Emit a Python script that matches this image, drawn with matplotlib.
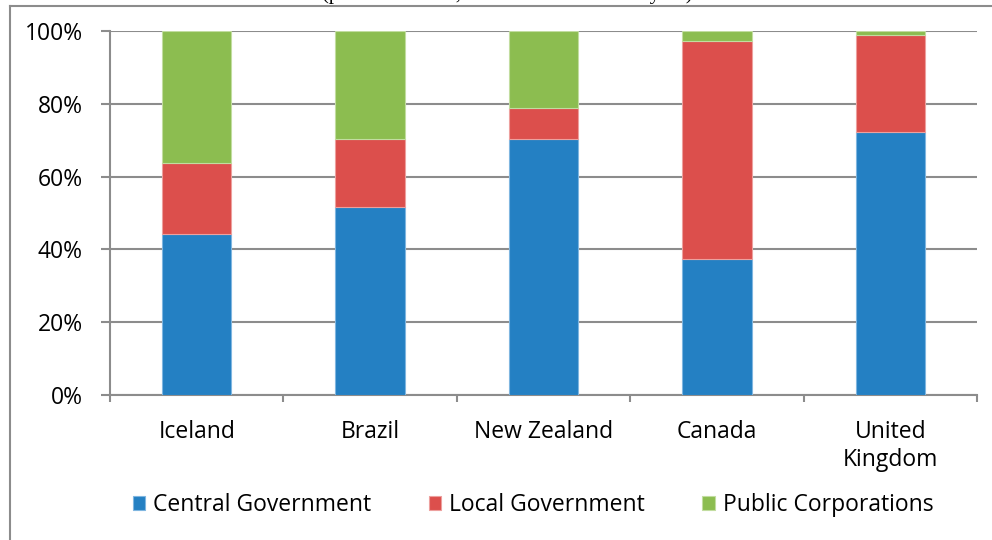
import matplotlib.pyplot as plt
from matplotlib.lines import Line2D
import numpy as np

countries = ["Iceland", "Brazil", "New Zealand", "Canada", "United\nKingdom"]
central = [44.2, 51.6, 70.3, 37.4, 72.3]
local = [19.5, 18.7, 8.5, 59.9, 26.5]
public = [36.3, 29.7, 21.2, 2.7, 1.2]
series_names = ["Central Government", "Local Government", "Public Corporations"]
colors = ["#2480C3", "#DC4F4C", "#8CBD50"]
edge_colors = ["#7FB6E0", "#EDA09E", "#C2DDA0"]
ytick_vals = [0, 20, 40, 60, 80, 100]

plt.rcParams['font.family'] = ['Open Sans', 'DejaVu Sans']

W, H = 992, 540
fig = plt.figure(figsize=(W / 100, H / 100), dpi=100)
ax = fig.add_axes([110 / W, 1 - 395 / H, (977 - 110) / W, (395 - 31) / H])

# outer chart frame (left and top edges only visible)
fig.add_artist(Line2D([10 / W, 10 / W], [0, 1 - 6 / H], color='#8C8C8C', lw=1.5, transform=fig.transFigure))
fig.add_artist(Line2D([10 / W, 1], [1 - 6 / H, 1 - 6 / H], color='#8C8C8C', lw=1.5, transform=fig.transFigure))

# title, mostly cut off at the top edge
fig.text(507 / W, 1 + 0.5 / H, "(percent of total, most recent available year)", ha='center', va='baseline',
         fontsize=15, family='Liberation Serif', color='black')

x = np.arange(len(countries))
bottom = np.zeros(len(countries))
handles = []
for vals, c, ec, name in zip([central, local, public], colors, edge_colors, series_names):
    b = ax.bar(x, vals, width=0.4, bottom=bottom, color=c, edgecolor=ec, linewidth=0.8, label=name, zorder=3)
    handles.append(b)
    bottom = bottom + np.array(vals)

ax.set_xlim(-0.5, len(countries) - 0.5)
ax.set_ylim(0, 100)
ax.set_yticks(ytick_vals)
ax.set_yticklabels([f"{v}%" for v in ytick_vals], fontsize=16.5)
ax.yaxis.grid(True, color='#8C8C8C', linewidth=1.5, zorder=0)
ax.set_axisbelow(True)

ax.set_xticks(x)
ax.set_xticklabels(countries, fontsize=16.5, linespacing=1.25)
ax.tick_params(axis='x', length=0, pad=18)
ax.set_xticks(np.arange(-0.5, len(countries)), minor=True)
ax.tick_params(axis='x', which='minor', length=5, color='#8C8C8C', width=1.5)
ax.tick_params(axis='y', length=6.5, color='#8C8C8C', width=1.5, pad=13)

for s in ['top', 'right']:
    ax.spines[s].set_visible(False)
for s in ['left', 'bottom']:
    ax.spines[s].set_color('#8C8C8C')
    ax.spines[s].set_linewidth(1.5)

fig.legend(handles=handles, labels=series_names, loc='center', bbox_to_anchor=(533 / W, 1 - 505 / H),
           ncol=3, frameon=False, fontsize=16.5, handlelength=0.55, handleheight=0.55,
           handletextpad=0.35, columnspacing=2.5)

fig.savefig("out.png", dpi=100)
